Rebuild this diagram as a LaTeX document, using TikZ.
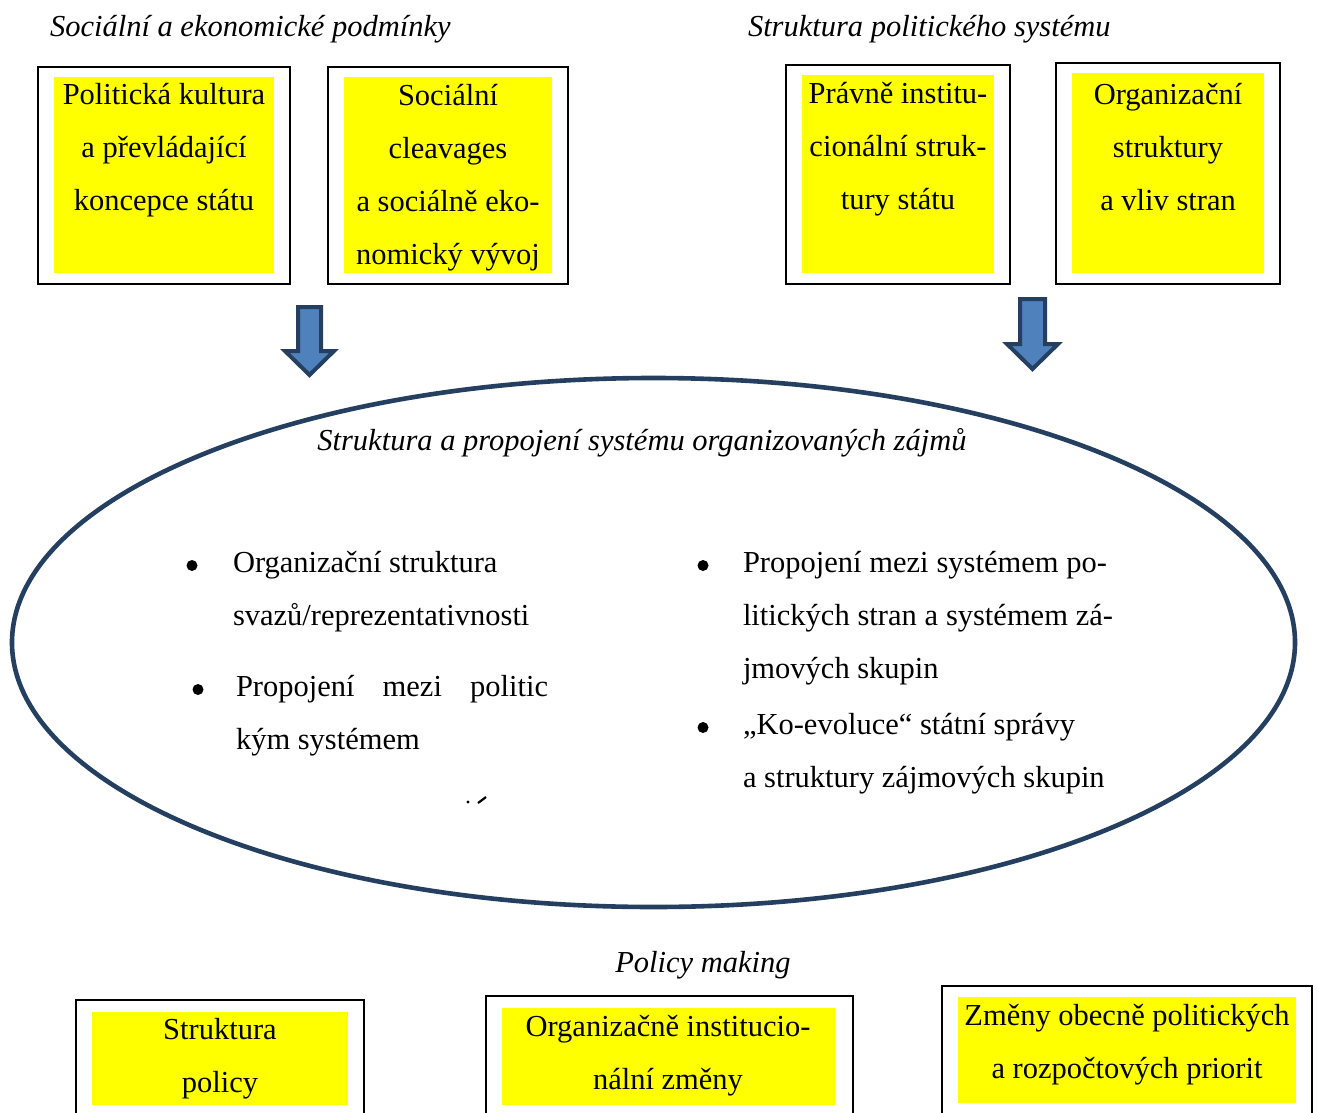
\documentclass[tikz,border=0pt]{standalone}
\usepackage{fontspec}
\setmainfont{Liberation Serif}
\definecolor{boxyellow}{HTML}{FFFF00}
\definecolor{arrowfill}{HTML}{4F81BD}
\definecolor{arrowline}{HTML}{243F60}
\begin{document}
\begin{tikzpicture}[x=1pt,y=-1pt,
  every node/.style={inner sep=0pt,outer sep=0pt,yshift=-2.5pt,font=\fontsize{30.5}{53}\selectfont},
  frame/.style={draw=black,line width=2.2pt,fill=white},
  pad/.style={fill=boxyellow,draw=none},
  heading/.style={font=\fontsize{30.5}{53}\selectfont\itshape},
  boxtext/.style={align=center},
  bigarrow/.style={fill=arrowfill,draw=arrowline,line width=4pt,line join=miter},
  bulletdot/.style={circle,fill=black,minimum size=11pt,inner sep=0pt,yshift=0pt}
]
\clip (0,0) rectangle (1317,1113);
\fill[white] (0,0) rectangle (1317,1113);

% headings above the two groups
\node[heading,anchor=west] (h1) at (50,27) {Sociální a ekonomické podmínky};
\node[heading,anchor=west] (h2) at (748,27) {Struktura politického systému};

% top boxes
\draw[frame] (38,67) rectangle (290,284);
\fill[pad] (54,77) rectangle (274,273);
\node[boxtext] (b1) at (164,148) {Politická kultura\\a převládající\\koncepce státu};

\draw[frame] (328,67) rectangle (568,284);
\fill[pad] (344,77) rectangle (552,273);
\node[boxtext] (b2) at (448,175) {Sociální\\cleavages\\a sociálně eko-\\nomický vývoj};

\draw[frame] (786,65) rectangle (1010,284);
\fill[pad] (802,75) rectangle (994,273);
\node[boxtext] (b3) at (898,147) {Právně institu-\\cionální struk-\\tury státu};

\draw[frame] (1056,63) rectangle (1280,284);
\fill[pad] (1072,73) rectangle (1264,273);
\node[boxtext] (b4) at (1168,145) {Organizační\\struktury\\a vliv stran};

% block arrows
\draw[bigarrow] (298,307) -- (321,307) -- (321,351) -- (334,351) -- (309.5,375)
  -- (285,351) -- (298,351) -- cycle;
\draw[bigarrow] (1020,299) -- (1045,299) -- (1045,344) -- (1058,344) -- (1032.5,369)
  -- (1007,344) -- (1020,344) -- cycle;

% central ellipse
\draw[arrowline,line width=4.6pt] (653.5,642.5) ellipse [x radius=641.5, y radius=264.5];
\node[heading] (eh) at (642,440) {Struktura a propojení systému organizovaných zájmů};

% left list
\node[bulletdot] (d1) at (192,563) {};
\node[anchor=west,align=left] (l1) at (233,589.5) {Organizační struktura\\svazů/reprezentativnosti};
\node[bulletdot] (d2) at (198,687) {};
\node[anchor=west,align=left] (l2) at (236,713.5) {\makebox[312pt][s]{Propojení\hfill mezi\hfill politic}\\kým systémem};
% clipped remnant of the following line
\fill[black] (468,802) circle (1.6);
\draw[black,line width=2.2pt] (478,803) -- (486,797);

% right list
\node[bulletdot] (d3) at (703,563) {};
\node[anchor=west,align=left] (r1) at (743,616) {\makebox[364pt][s]{Propojení mezi systémem po-}\\\makebox[370pt][s]{litických stran a systémem zá-}\\jmových skupin};
\node[bulletdot] (d4) at (703,725) {};
\node[anchor=west,align=left] (r2) at (743,751.5) {„Ko-evoluce“ státní správy\\a struktury zájmových skupin};

% policy making
\node[heading] (pm) at (703,963) {Policy making};

% bottom boxes
\draw[frame] (76,1000) rectangle (364,1140);
\fill[pad] (92,1012) rectangle (348,1105);
\node[boxtext] (c1) at (220,1056.5) {Struktura\\policy};

\draw[frame] (486,996) rectangle (853,1140);
\fill[pad] (502,1008) rectangle (835,1105);
\node[boxtext] (c2) at (668,1053.5) {Organizačně institucio-\\nální změny};

\draw[frame] (942,986) rectangle (1312,1140);
\fill[pad] (958,997) rectangle (1296,1103);
\node[boxtext] (c3) at (1127,1042.5) {Změny obecně politických\\a rozpočtových priorit};
\end{tikzpicture}
\end{document}
